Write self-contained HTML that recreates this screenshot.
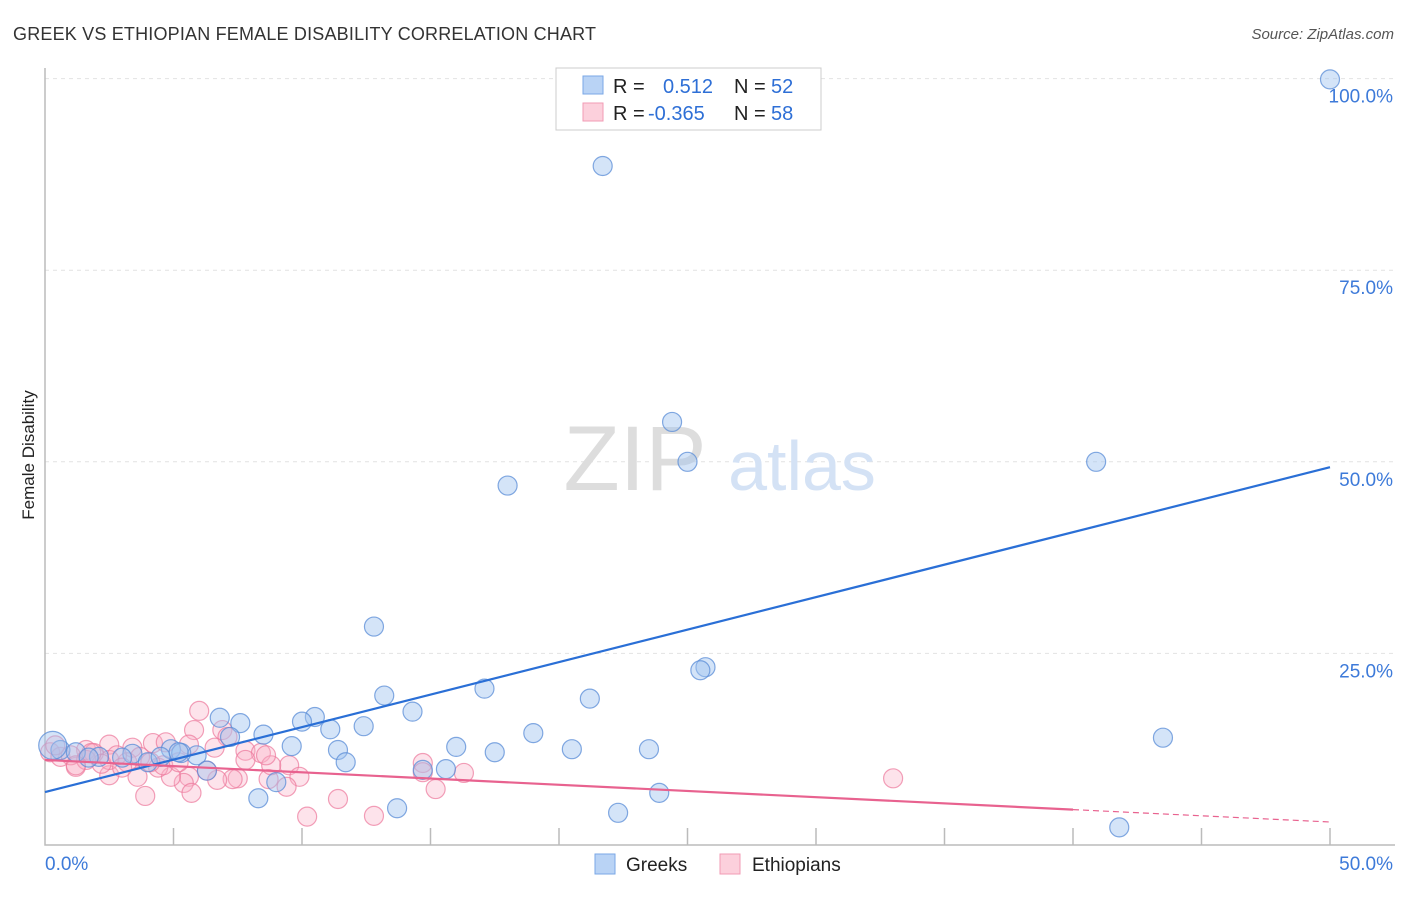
<!DOCTYPE html><html><head><meta charset="utf-8"><style>
body{margin:0;background:#fff;font-family:"Liberation Sans",sans-serif}
svg text{font-family:"Liberation Sans",sans-serif}
</style></head><body>
<svg width="1406" height="892" xmlns="http://www.w3.org/2000/svg">
<text x="13" y="40" font-size="18" textLength="583" fill="#333">GREEK VS ETHIOPIAN FEMALE DISABILITY CORRELATION CHART</text>
<text x="1394" y="39" font-size="15" font-style="italic" fill="#555" text-anchor="end">Source: ZipAtlas.com</text>
<g id="grid"></g>
<text x="635" y="490" font-size="92" font-family="Liberation Serif" fill="#ddd" text-anchor="middle">ZIP</text>
<text x="802" y="490" font-size="70" fill="#d4e2f5" text-anchor="middle">atlas</text>
<g id="pts"></g>
<g id="lines"></g>
<text transform="translate(34,455) rotate(-90)" font-size="17" fill="#222" text-anchor="middle">Female Disability</text>
<g>
<rect x="556" y="68" width="265" height="62" fill="#fff" stroke="#ccc"/>
<rect x="583" y="76" width="20" height="18" fill="#b9d3f5" stroke="#7aa7e6"/>
<rect x="583" y="103" width="20" height="18" fill="#fcd0dc" stroke="#f29bb4"/>
<text y="93" font-size="20" fill="#222"><tspan x="613">R =</tspan><tspan x="663" fill="#2e6fd6">0.512</tspan><tspan x="734">N =</tspan><tspan x="771" fill="#2e6fd6">52</tspan></text>
<text y="120" font-size="20" fill="#222"><tspan x="613">R =</tspan><tspan x="648" fill="#2e6fd6">-0.365</tspan><tspan x="734">N =</tspan><tspan x="771" fill="#2e6fd6">58</tspan></text>
</g>
<g>
<rect x="595" y="854" width="20" height="20" fill="#b9d3f5" stroke="#7aa7e6"/>
<text x="626" y="871" font-size="19" fill="#222">Greeks</text>
<rect x="720" y="854" width="20" height="20" fill="#fcd0dc" stroke="#f29bb4"/>
<text x="752" y="871" font-size="19" fill="#222">Ethiopians</text>
</g>
</svg>
<script>
const yTicks=[100,75,50,25];
const yTickLabels=["100.0%","75.0%","50.0%","25.0%"];
const xTicks=[0,5,10,15,20,25,30,35,40,45,50];
const greekX=[50,21.7,24.4,25.0,40.9,18.0,12.8,25.7,25.5,13.2,17.1,21.2,14.3,10.5,10.0,6.8,7.6,12.4,8.5,11.1,19.0,7.2,43.5,9.6,16.0,20.5,23.5,11.4,17.5,5.9,4.9,5.3,3.4,0.6,1.2,2.1,3.0,4.0,11.7,6.3,14.7,15.6,9.0,23.9,8.3,13.7,22.3,41.8,0.3,1.7,4.5,5.2];
const greekY=[99.9,88.6,55.2,50.0,50.0,46.9,28.5,23.2,22.8,19.5,20.4,19.1,17.4,16.7,16.1,16.6,15.9,15.5,14.4,15.1,14.6,14.1,14.0,12.9,12.8,12.5,12.5,12.4,12.1,11.7,12.5,12.0,11.9,12.4,12.1,11.5,11.4,10.8,10.8,9.7,9.8,9.9,8.2,6.8,6.1,4.8,4.2,2.3,13.0,11.4,11.5,12.1];
const ethX=[6.0,5.8,6.9,7.1,7.8,8.4,9.5,14.7,16.3,9.9,8.7,9.4,7.5,7.3,6.7,6.3,5.6,5.4,5.7,4.9,4.4,3.9,3.6,2.5,1.2,4.2,4.7,3.4,2.5,1.6,11.4,10.2,12.8,15.2,14.7,33.0,8.8,2.5,0.2,0.6,1.0,1.9,3.2,3.7,4.6,5.2,2.2,2.8,1.6,0.4,4.1,6.6,8.6,5.6,7.8,3.0,1.8,1.2];
const ethY=[17.5,15.0,15.0,14.1,12.3,12.0,10.4,10.7,9.4,8.9,8.6,7.6,8.7,8.6,8.5,9.7,8.9,8.1,6.8,8.9,10.1,6.4,8.9,9.1,10.2,13.3,13.4,12.7,13.1,12.4,6.0,3.7,3.8,7.3,9.5,8.7,10.4,11.1,12.1,11.5,11.7,12.0,10.8,11.5,10.4,10.8,10.6,11.7,11.1,13.0,10.8,12.7,11.7,13.1,11.1,10.1,12.0,10.4];
const greekLine=[6.9,49.3];
const ethLine=[11.1,3.0];
const ethSolidEnd=40;
const X=v=>45+v/50*1285, Y=v=>845-v*7.664;
const NS="http://www.w3.org/2000/svg";
function mk(t,a,p){const e=document.createElementNS(NS,t);for(const k in a)e.setAttribute(k,a[k]);p.appendChild(e);return e;}
const grid=document.getElementById('grid');
yTicks.forEach((t,i)=>{
 const l=mk('line',{x1:45,x2:1395,y1:Y(t),y2:Y(t),stroke:'#e2e2e2','stroke-dasharray':'4,4'},grid);
 
 
 const tx=mk('text',{x:1393,y:Y(t)+24,'font-size':19,fill:'#3d7ad9','text-anchor':'end'},grid);
 tx.textContent=yTickLabels[i];
 
 
});
const ax=mk('path',{d:'M45,68V845H1395',fill:'none',stroke:'#bbb','stroke-width':1.5},grid);


xTicks.slice(1).forEach(t=>{const l=mk('line',{x1:X(t),x2:X(t),y1:828,y2:845,stroke:'#bbb','stroke-width':1.5},grid);
 
 });
[['0.0%',45,'start'],['50.0%',1393,'end']].forEach(a=>{const t=mk('text',{x:a[1],y:870,'font-size':19,fill:'#3d7ad9','text-anchor':a[2]},grid);t.textContent=a[0];
 
 });
const pts=document.getElementById('pts');
ethX.forEach((x,i)=>{const c=mk('circle',{cx:X(x),cy:Y(ethY[i]),r:9.5,fill:'rgba(248,175,198,0.35)',stroke:'rgba(236,120,155,0.7)','stroke-width':1.2},pts);
 
 });
greekX.forEach((x,i)=>{const c=mk('circle',{cx:X(x),cy:Y(greekY[i]),r:i==48?14:9.5,fill:'rgba(160,196,240,0.45)',stroke:'rgba(90,140,215,0.75)','stroke-width':1.2},pts);
 
 });
const ln=document.getElementById('lines');
let l=mk('line',{x1:X(0),y1:Y(greekLine[0]),x2:X(50),y2:Y(greekLine[1]),stroke:'#2a6fd6','stroke-width':2.2},ln);


const ey=x=>ethLine[0]+(ethLine[1]-ethLine[0])*x/50;
l=mk('line',{x1:X(0),y1:Y(ey(0)),x2:X(ethSolidEnd),y2:Y(ey(ethSolidEnd)),stroke:'#e8628f','stroke-width':2.2},ln);


l=mk('line',{x1:X(ethSolidEnd),y1:Y(ey(ethSolidEnd)),x2:X(50),y2:Y(ey(50)),stroke:'#e8628f','stroke-width':1.2,'stroke-dasharray':'6,4'},ln);


</script></body></html>
